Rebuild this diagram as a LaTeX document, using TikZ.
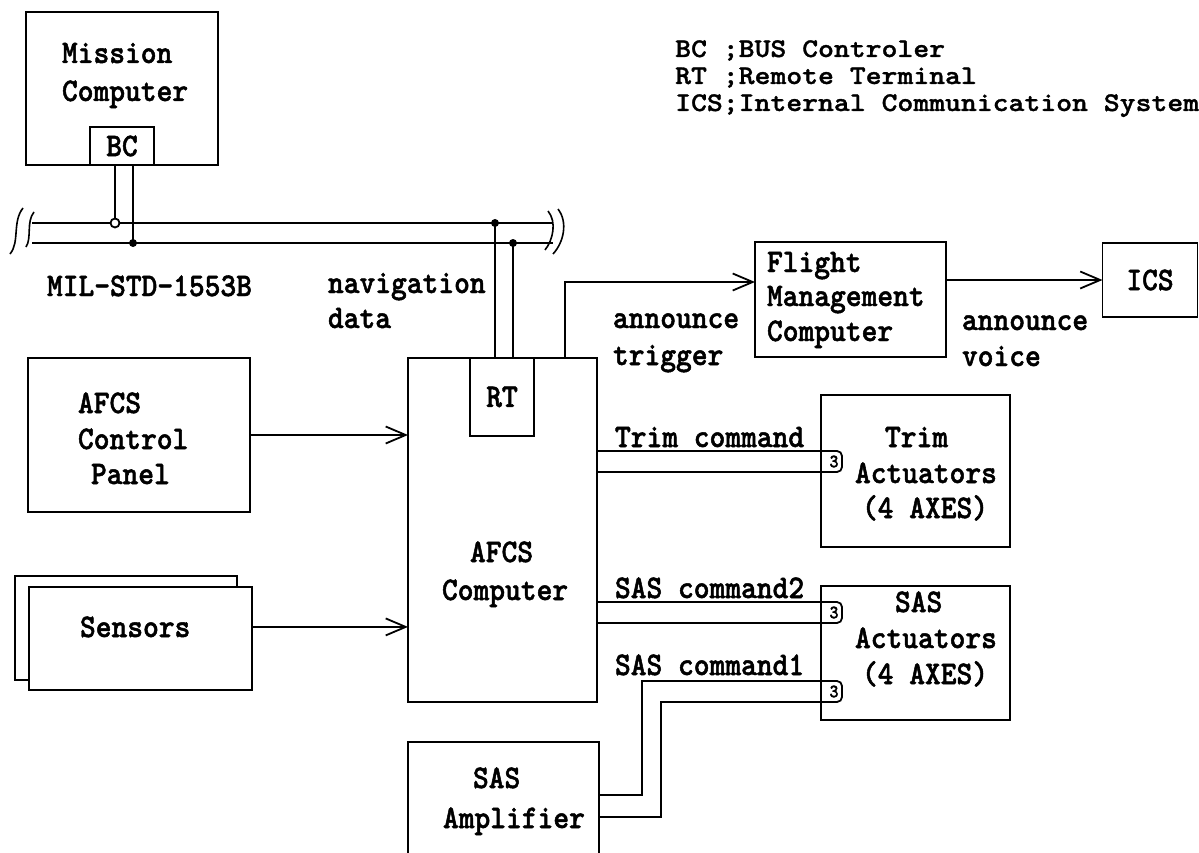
\documentclass[tikz,border=0pt]{standalone}
\usepackage{fontspec}
\usetikzlibrary{arrows.meta}
\newfontfamily\mainmono{lmmonolt10-bold.otf}[FakeStretch=0.91,FakeBold=1.5]
\newfontfamily\legmono{lmmonolt10-bold.otf}[FakeStretch=1.12,FakeBold=1.2]
\tikzset{
  lw/.style={line width=1.8pt},
  box/.style={draw, lw, fill=white, inner sep=0pt, outer sep=0pt},
  txt/.style={inner sep=0pt, outer sep=0pt, font=\mainmono\fontsize{33}{36}\selectfont},
  tl/.style={txt, anchor=base west},
  leg/.style={inner sep=0pt, anchor=base west, font=\legmono\fontsize{27}{30}\selectfont},
  arr/.style={lw, -{Straight Barb[length=20pt,width=17pt]}},
  brk/.style={line width=1.6pt},
  dot/.style={circle, fill=black, inner sep=0pt, minimum size=8pt},
  ring/.style={circle, draw, lw, fill=white, inner sep=0pt, minimum size=9pt},
  pics/plug/.style={code={
    \draw[lw, rounded corners=5pt] (0,0) -- (21,0) -- (21,21) -- (0,21);
    \node[inner sep=0pt, font=\mainmono\fontsize{19}{19}\selectfont] (-g) at (13,10.5) {3};
  }},
}
\begin{document}
\begin{tikzpicture}[x=1pt,y=-1pt]
\useasboundingbox (0,0) rectangle (1199,853);
% Mission computer
\node[box, minimum width=192pt, minimum height=153pt] (mc) at (122,88.5) {};
\node[tl] (mc1) at (62,63) {Mission};
\node[tl] (mc2) at (62,101) {Computer};
\node[box, txt, minimum width=64pt, minimum height=38pt] (bc) at (122,146) {BC};
% legend
\node[leg] (l1) at (675,57) {BC ;BUS Controler};
\node[leg] (l2) at (675,84) {RT ;Remote Terminal};
\node[leg] (l3) at (675,111) {ICS;Internal Communication System};
% bus
\coordinate (b1L) at (32,223); \coordinate (b1R) at (553,223);
\coordinate (b2L) at (32,243); \coordinate (b2R) at (553,243);
\draw[lw] (b1L) -- (b1R);
\draw[lw] (b2L) -- (b2R);
\draw[brk] (23,208) .. controls (12,222) and (20,242) .. (10,254);
\draw[brk] (34,212) .. controls (26,222) and (32,238) .. (26,247);
\draw[brk] (548,211) .. controls (557,222) and (553,240) .. (545,250);
\draw[brk] (558,209) .. controls (568,222) and (564,242) .. (553,254);
\node[tl] (mil) at (47,296) {MIL-STD-1553B};
\node[tl] (nav1) at (328,293) {navigation};
\node[tl] (nav2) at (328,328) {data};
% BC to bus
\coordinate (bcA) at (115,223); \coordinate (bcB) at (133,243);
\draw[lw] (bcA |- bc.south) -- (bcA);
\draw[lw] (bcB |- bc.south) -- (bcB);
\node[ring] (r1) at (bcA) {};
\node[dot] (d1) at (bcB) {};
% AFCS computer
\node[box, minimum width=189pt, minimum height=344pt] (afcs) at (502.5,530) {};
\node[box, txt, minimum width=64pt, minimum height=78pt] (rt) at (502,397) {RT};
\node[tl] (afcs1) at (470,562) {AFCS};
\node[tl] (afcs2) at (442,600) {Computer};
\coordinate (rtA) at (495,223); \coordinate (rtB) at (513,243);
\draw[lw] (rtA) -- (rtA |- rt.north);
\draw[lw] (rtB) -- (rtB |- rt.north);
\node[dot] (d2) at (rtA) {};
\node[dot] (d3) at (rtB) {};
% control panel
\node[box, minimum width=222pt, minimum height=154pt] (cp) at (139,435) {};
\node[tl] (cp1) at (78,413) {AFCS};
\node[tl] (cp2) at (78,449) {Control};
\node[tl] (cp3) at (91,484) {Panel};
\draw[arr] (cp.east) -- (cp.east -| afcs.west);
% sensors
\node[box, minimum width=222pt, minimum height=104pt] (sensB) at (126,628) {};
\node[box, minimum width=223pt, minimum height=103pt] (sens) at (140.5,638.5) {};
\node[tl] (senst) at (80,637) {Sensors};
\draw[arr] (senst.east -| sens.east) -- (senst.east -| afcs.west);
% FMC
\node[box, minimum width=191pt, minimum height=115pt] (fmc) at (850.5,299.5) {};
\node[tl] (f1) at (767,272) {Flight};
\node[tl] (f2) at (767,306) {Management};
\node[tl] (f3) at (767,341) {Computer};
\node[box, txt, minimum width=95pt, minimum height=74pt] (ics) at (1150,280) {ICS};
\coordinate (at) at (565,282);
\draw[arr] (at |- afcs.north) -- (at) -- (at -| fmc.west);
\node[tl] (an1) at (613,328) {announce};
\node[tl] (an2) at (613,365) {trigger};
\draw[arr] (fmc.east |- ics.west) -- (ics.west);
\node[tl] (av1) at (962,330) {announce};
\node[tl] (av2) at (962,366) {voice};
% Trim actuators
\node[box, minimum width=189pt, minimum height=152pt] (trim) at (915.5,471) {};
\node[tl] (tr1) at (885,447) {Trim};
\node[tl] (tr2) at (855,483) {Actuators};
\node[tl] (tr3) at (862,518) {(4 AXES)};
\coordinate (tc1) at (700,451); \coordinate (tc2) at (700,472);
\draw[lw] (tc1 -| afcs.east) -- (tc1 -| trim.west);
\draw[lw] (tc2 -| afcs.east) -- (tc2 -| trim.west);
\pic (p1) at (tc1 -| trim.west) {plug};
\node[tl] (tcl) at (615,447) {Trim command};
% SAS actuators
\node[box, minimum width=189pt, minimum height=134pt] (sas) at (915.5,653) {};
\node[tl] (sa1) at (895,612) {SAS};
\node[tl] (sa2) at (855,648) {Actuators};
\node[tl] (sa3) at (862,684) {(4 AXES)};
\coordinate (s2a) at (700,602); \coordinate (s2b) at (700,623);
\draw[lw] (s2a -| afcs.east) -- (s2a -| sas.west);
\draw[lw] (s2b -| afcs.east) -- (s2b -| sas.west);
\pic (p2) at (s2a -| sas.west) {plug};
\node[tl] (s2l) at (615,598) {SAS command2};
% SAS amplifier
\node[box, minimum width=191pt, minimum height=130pt] (amp) at (503.5,807) {};
\node[tl] (am1) at (473,788) {SAS};
\node[tl] (am2) at (443,828) {Amplifier};
\coordinate (k1) at (642,795); \coordinate (k1t) at (642,681);
\coordinate (k2) at (661,817); \coordinate (k2t) at (661,702);
\draw[lw] (k1 -| amp.east) -- (k1) -- (k1t) -- (k1t -| sas.west);
\draw[lw] (k2 -| amp.east) -- (k2) -- (k2t) -- (k2t -| sas.west);
\pic (p3) at (k1t -| sas.west) {plug};
\node[tl] (s1l) at (615,675) {SAS command1};
\end{tikzpicture}
\end{document}
